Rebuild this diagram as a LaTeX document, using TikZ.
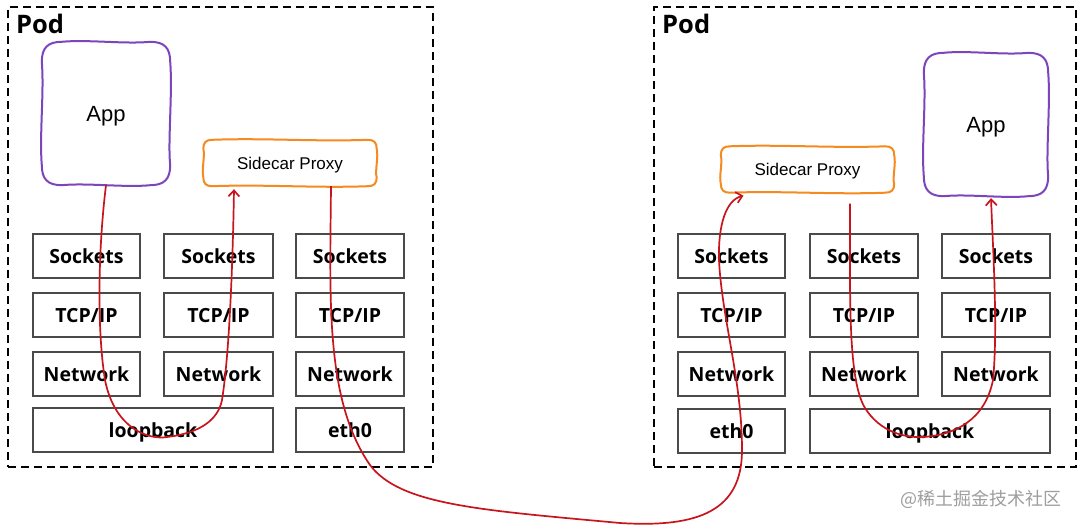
\documentclass[tikz,border=0pt]{standalone}
\usepackage{fontspec}
\setmainfont{Liberation Sans}
\newfontfamily\labfont{Open Sans}
\newfontfamily\cjk{Noto Sans CJK SC}
\usetikzlibrary{arrows.meta,calc}
\definecolor{podpurple}{HTML}{7B45BC}
\definecolor{proxyorange}{HTML}{F58A1F}
\definecolor{flowred}{HTML}{C8141C}
\definecolor{boxgray}{HTML}{4A4A4A}
\tikzset{
  pod/.style={draw=black, line width=1.8pt, dash pattern=on 8pt off 5pt, inner sep=0pt, minimum width=#1, minimum height=460pt},
  podlabel/.style={font=\labfont\bfseries\fontsize{25.5}{28}\selectfont, anchor=base west, inner sep=0pt},
  layer/.style={draw=boxgray, line width=1.2pt, inner sep=0pt, minimum height=44pt, minimum width=#1, text depth=0pt, font=\labfont\bfseries\fontsize{19.5}{22}\selectfont},
  layer/.default=108pt,
  appbox/.style={inner sep=0pt, minimum width=#1, minimum height=143pt, text depth=0pt, font=\fontsize{22}{24}\selectfont},
  proxybox/.style={inner sep=0pt, minimum width=173pt, minimum height=46pt, text depth=0pt, font=\fontsize{17}{19}\selectfont},
  appline/.style={draw=podpurple, line width=2pt},
  proxyline/.style={draw=proxyorange, line width=2pt},
  flow/.style={draw=flowred, line width=1.7pt},
  flowarrow/.style={flow, -{Straight Barb[length=6pt,width=11pt,line width=1.7pt]}},
  watermark/.style={font=\cjk\fontsize{18}{20}\selectfont, text=black!38, inner sep=0pt, anchor=base east}
}
% hand-drawn outline round a node: #1 node, #2 style, #3 corner radius, #4 wobble
\newcommand\handoutline[4]{%
  \draw[#2] ($(#1.north west)+(#3,0)$)
    .. controls ($(#1.north west)!0.35!(#1.north east)+(0,-#4)$) and ($(#1.north west)!0.65!(#1.north east)+(0,#4)$) .. ($(#1.north east)+(-#3,0)$)
    .. controls ($(#1.north east)+(-0.3*#3,0)$) and ($(#1.north east)+(0,0.3*#3)$) .. ($(#1.north east)+(0,#3)$)
    .. controls ($(#1.north east)!0.35!(#1.south east)+(#4,0)$) and ($(#1.north east)!0.7!(#1.south east)+(-#4,0)$) .. ($(#1.south east)+(0,-#3)$)
    .. controls ($(#1.south east)+(0,-0.3*#3)$) and ($(#1.south east)+(-0.3*#3,0)$) .. ($(#1.south east)+(-#3,0)$)
    .. controls ($(#1.south east)!0.35!(#1.south west)+(0,#4)$) and ($(#1.south east)!0.65!(#1.south west)+(0,-#4)$) .. ($(#1.south west)+(#3,0)$)
    .. controls ($(#1.south west)+(0.3*#3,0)$) and ($(#1.south west)+(0,-0.3*#3)$) .. ($(#1.south west)+(0,-#3)$)
    .. controls ($(#1.south west)!0.35!(#1.north west)+(-#4,0)$) and ($(#1.south west)!0.65!(#1.north west)+(#4,0)$) .. ($(#1.north west)+(0,#3)$)
    .. controls ($(#1.north west)+(0,0.3*#3)$) and ($(#1.north west)+(0.3*#3,0)$) .. cycle;}
\begin{document}
\begin{tikzpicture}[x=1pt,y=-1pt]
\useasboundingbox (0,0) rectangle (1080,525);
\fill[white] (0,0) rectangle (1080,525);

% pods
\node[pod=425pt] (podL) at (220.5,237) {};
\node[pod=422pt] (podR) at (865,237) {};
\node[podlabel] (podLlab) at (16,33) {Pod};
\node[podlabel] (podRlab) at (662,33) {Pod};

% left pod
\node[appbox=128pt] (appL) at (106,113.5) {App};
\handoutline{appL}{appline}{20}{2.5}
\node[proxybox] (proxyL) at (290,163) {Sidecar Proxy};
\handoutline{proxyL}{proxyline}{9}{2}

\node[layer=107pt] (sockL1) at (86.5,256) {Sockets};
\node[layer=109pt] (sockL2) at (218.5,256) {Sockets};
\node[layer=108pt] (sockL3) at (350,256) {Sockets};
\node[layer=107pt] (tcpL1) at (86.5,315) {TCP/IP};
\node[layer=109pt] (tcpL2) at (218.5,315) {TCP/IP};
\node[layer=108pt] (tcpL3) at (350,315) {TCP/IP};
\node[layer=107pt] (netL1) at (86.5,374) {Network};
\node[layer=109pt] (netL2) at (218.5,374) {Network};
\node[layer=108pt] (netL3) at (350,374) {Network};
\node[layer=240pt] (loL) at (153,430) {loopback};
\node[layer=108pt] (ethL) at (350,430) {eth0};

% right pod
\node[proxybox] (proxyR) at (807.5,169.5) {Sidecar Proxy};
\handoutline{proxyR}{proxyline}{9}{2}
\node[appbox=124pt] (appR) at (986,124.5) {App};
\handoutline{appR}{appline}{20}{2.5}

\node[layer=107pt] (sockR1) at (731.5,256) {Sockets};
\node[layer=108pt] (sockR2) at (864,256) {Sockets};
\node[layer=108pt] (sockR3) at (996,256) {Sockets};
\node[layer=107pt] (tcpR1) at (731.5,315) {TCP/IP};
\node[layer=108pt] (tcpR2) at (864,315) {TCP/IP};
\node[layer=108pt] (tcpR3) at (996,315) {TCP/IP};
\node[layer=107pt] (netR1) at (731.5,374) {Network};
\node[layer=108pt] (netR2) at (864,374) {Network};
\node[layer=108pt] (netR3) at (996,374) {Network};
\node[layer=107pt] (ethR) at (731.5,431) {eth0};
\node[layer=240pt] (loR) at (930,431) {loopback};

% flows
\draw[flowarrow] (appL.south) .. controls (98,250) and (97,330) .. (105,380)
  .. controls (115,430) and (150,440) .. (167,437)
  .. controls (200,433) and (218,420) .. (222,400)
  .. controls (230,350) and (233,250) .. ([xshift=-56pt,yshift=-3pt]proxyL.south);

\draw[flowarrow] ([xshift=41pt]proxyL.south) .. controls (330,300) and (325,400) .. (370,465)
  .. controls (400,505) and (480,510) .. (620,523)
  .. controls (700,528) and (742,510) .. (742,450)
  .. controls (742,380) and (722,320) .. (719,260)
  .. controls (718,225) and (726,200) .. ([xshift=-64pt,yshift=-3pt]proxyR.south);

\draw[flowarrow] ([xshift=42.5pt,yshift=-11pt]proxyR.south) .. controls (850,300) and (848,380) .. (865,408)
  .. controls (880,432) and (905,438) .. (923,437)
  .. controls (955,435) and (985,420) .. (993,380)
  .. controls (998,330) and (993,250) .. ([xshift=5pt,yshift=-2pt]appR.south);

\node[watermark] (wm) at (1062,505) {@稀土掘金技术社区};
\end{tikzpicture}
\end{document}
